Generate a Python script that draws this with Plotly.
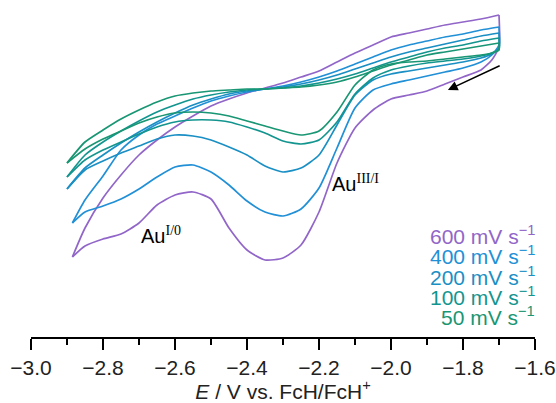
import plotly.graph_objects as go

# Potential grid (V vs FcH/FcH+): forward (cathodic) sweep and reverse sweep
E_fwd = [-1.70, -1.70, -1.72, -1.75, -1.80, -1.85, -1.90, -1.95, -2.00, -2.05, -2.10,
         -2.15, -2.20, -2.25, -2.30, -2.35, -2.40, -2.45, -2.50, -2.55, -2.60, -2.65,
         -2.70, -2.75, -2.80, -2.85]
E_rev = [-2.85, -2.80, -2.75, -2.70, -2.65, -2.60, -2.55, -2.50, -2.45, -2.40, -2.35,
         -2.30, -2.25, -2.20, -2.15, -2.10, -2.05, -2.00, -1.95, -1.90, -1.85, -1.80,
         -1.75, -1.70]

scan_rates = ["600", "400", "200", "100", "50"]
colors = ["#9166c8", "#2190d6", "#1a8fc4", "#13958f", "#199673"]
E_turn = [-2.885, -2.885, -2.90, -2.90, -2.90]

# Current (arbitrary units)
i_fwd = {
    "600": [-15, -47, -60, -70, -77, -84, -91, -95, -99, -110, -128, -163, -212, -245, -258,
            -260, -250, -228, -199, -192, -195, -205, -223, -234, -239, -246],
    "400": [-27, -45, -55, -62, -68, -72, -76, -80, -84, -90, -108, -148, -188, -209, -216,
            -212, -201, -185, -172, -165, -167, -177, -189, -199, -206, -212],
    "200": [-33, -48, -54, -58, -62, -65, -68, -71, -74, -80, -95, -125, -155, -168, -172,
            -166, -155, -147, -140, -136, -135, -139, -146, -153, -161, -170],
    "100": [-38, -49, -53, -56, -59, -61, -63, -66, -70, -78, -94, -122, -140, -144, -141,
            -133, -127, -122, -120, -120, -122, -127, -134, -142, -150, -160],
    "50":  [-43, -50, -53, -55, -57, -59, -61, -62, -64, -70, -85, -112, -131, -135, -131,
            -126, -121, -116, -113, -112, -113, -117, -123, -131, -139, -149],
}
i_turn = {"600": -257, "400": -223, "200": -189, "100": -177, "50": -163}
i_rev = {
    "600": [-228, -198, -175, -155, -140, -127, -116, -106, -99, -93, -88, -83, -77, -71,
            -62, -53, -45, -37, -33, -29, -25, -22, -19, -15],
    "400": [-200, -176, -150, -135, -124, -116, -108, -101, -96, -92, -89, -86, -82, -77,
            -71, -64, -57, -50, -45, -41, -37, -34, -30, -27],
    "200": [-168, -155, -143, -132, -122, -113, -105, -99, -94, -91, -89, -87, -84, -80,
            -75, -69, -63, -57, -52, -48, -44, -40, -36, -33],
    "100": [-155, -142, -131, -121, -112, -105, -99, -95, -92, -90, -89, -88, -86, -83,
            -79, -74, -68, -62, -57, -52, -48, -45, -41, -38],
    "50":  [-142, -130, -119, -110, -102, -96, -93, -91, -90, -89, -89, -88, -87, -85,
            -82, -77, -71, -65, -60, -55, -52, -49, -46, -43],
}

legend_y = [-235, -255, -275.5, -296, -316]
tick_vals = [-3.0, -2.8, -2.6, -2.4, -2.2, -2.0, -1.8, -1.6]

fig = go.Figure()
for k, (sr, col) in enumerate(zip(scan_rates, colors)):
    fig.add_trace(go.Scatter(
        x=E_fwd + [E_turn[k]], y=i_fwd[sr] + [i_turn[sr]],
        mode="lines", line=dict(color=col, width=1.7, shape="spline", smoothing=0.6),
        showlegend=False, hoverinfo="skip"))
    fig.add_trace(go.Scatter(
        x=[E_turn[k]] + E_rev, y=[i_turn[sr]] + i_rev[sr],
        mode="lines", line=dict(color=col, width=1.7, shape="spline", smoothing=0.6),
        showlegend=False, hoverinfo="skip"))

font_main = "Liberation Sans, Arial, sans-serif"
annotations = []
for sr, col, yy in zip(scan_rates, colors, legend_y):
    annotations.append(dict(
        x=1.004, xref="paper", y=yy, yref="y", xanchor="right", yanchor="middle",
        text=f"{sr} mV s<sup>\u22121</sup>", showarrow=False,
        font=dict(family=font_main, size=21, color=col)))

annotations.append(dict(
    x=-2.639, y=-235, xref="x", yref="y", xanchor="center", yanchor="middle",
    text="Au<sup><span style='font-family:Liberation Serif'>I/0</span></sup>",
    showarrow=False, font=dict(family=font_main, size=20, color="black")))
annotations.append(dict(
    x=-2.10, y=-183, xref="x", yref="y", xanchor="center", yanchor="middle",
    text="Au<sup><span style='font-family:Liberation Serif'>III/I</span></sup>",
    showarrow=False, font=dict(family=font_main, size=20, color="black")))
annotations.append(dict(
    x=-1.842, y=-90, xref="x", yref="y", ax=-1.694, ay=-65, axref="x", ayref="y",
    text="", showarrow=True, arrowhead=2, arrowsize=1.3, arrowwidth=1.5,
    arrowcolor="black"))

fig.update_layout(
    width=556, height=403,
    margin=dict(l=31, r=21, t=0, b=66),
    plot_bgcolor="white", paper_bgcolor="white",
    annotations=annotations,
    xaxis=dict(
        range=[-3.0, -1.6], tickvals=tick_vals, tickformat=".1f",
        ticks="outside", ticklen=11, tickwidth=1.5, tickcolor="black",
        showline=True, linewidth=1.5, linecolor="black",
        showgrid=False, zeroline=False,
        minor=dict(dtick=0.1, tick0=-3.0, ticks="outside", ticklen=6, tickwidth=1.5,
                   tickcolor="black", showgrid=False),
        tickfont=dict(family=font_main, size=21, color="#222"),
        title=dict(text="<i>E</i> / V vs. FcH/FcH<sup>+</sup>",
                   font=dict(family=font_main, size=21, color="#222"), standoff=2),
    ),
    yaxis=dict(visible=False, range=[-337, 0]),
)

fig.write_html("out.html")
